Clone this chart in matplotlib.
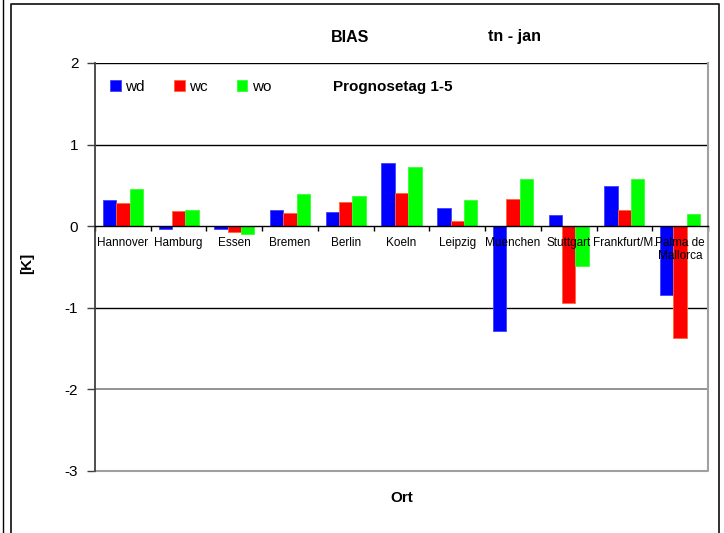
import numpy as np
from matplotlib import pyplot as plt
from matplotlib.lines import Line2D
from matplotlib.patches import Rectangle

plt.rcParams['font.family'] = ['Liberation Sans', 'DejaVu Sans']

orte = ["Hannover", "Hamburg", "Essen", "Bremen", "Berlin", "Koeln", "Leipzig",
        "Muenchen", "Stuttgart", "Frankfurt/M.", "Palma de\nMallorca"]
wd = [0.32, -0.04, -0.03, 0.20, 0.18, 0.78, 0.22, -1.28, 0.14, 0.49, -0.84]
wc = [0.29, 0.19, -0.07, 0.16, 0.30, 0.41, 0.06, 0.33, -0.94, 0.20, -1.37]
wo = [0.46, 0.20, -0.10, 0.39, 0.37, 0.73, 0.32, 0.58, -0.49, 0.58, 0.15]
yticks = [2, 1, 0, -1, -2, -3]

W, H = 724, 533
fig = plt.figure(figsize=(W / 100, H / 100), dpi=100)

def fx(px):
    return px / W

def fy(py):
    return 1 - py / H

ax = fig.add_axes([fx(95), fy(471), fx(708) - fx(95), fy(63) - fy(471)])

x = np.arange(len(orte))
bw = 0.24
ax.bar(x - bw, wd, bw, color="#0000ff", edgecolor="#4040ff", linewidth=0.6, label="wd", zorder=3)
ax.bar(x, wc, bw, color="#ff0000", edgecolor="#ff6633", linewidth=0.6, label="wc", zorder=3)
ax.bar(x + bw, wo, bw, color="#00ff00", edgecolor="#33ff33", linewidth=0.6, label="wo", zorder=3)

ax.set_xlim(-0.5, len(orte) - 0.5)
ax.set_ylim(-3, 2)
ax.set_yticks(yticks)
ax.set_yticklabels([str(v) for v in yticks], fontsize=11)
ax.tick_params(axis="y", direction="out", length=6, width=1, color="#404040", pad=6)

for v in [2, 1, -1]:
    ax.axhline(v, color="black", lw=1, zorder=1)
ax.axhline(-2, color="#808080", lw=1.2, zorder=1)

# zero line carries the category ticks
ax.spines["bottom"].set_position(("data", 0))
ax.spines["bottom"].set_color("black")
ax.spines["bottom"].set_linewidth(1)
ax.spines["bottom"].set_zorder(4)
ax.set_xticks(np.arange(len(orte) + 1) - 0.5)
ax.set_xticklabels([])
ax.tick_params(axis="x", direction="out", length=3.5, width=1, color="black")
ax.spines["top"].set_visible(False)
ax.spines["right"].set_visible(False)
ax.spines["left"].set_color("#404040")
ax.spines["left"].set_linewidth(1.3)

# plot area border (right / bottom grey)
ax.plot([1, 1, 0], [1, 0, 0], transform=ax.transAxes, color="#a0a0a0", lw=1.5, clip_on=False)

for i, name in enumerate(orte):
    ax.annotate(name, (i, 0), xytext=(0, -8), textcoords="offset points",
                ha="center", va="top", fontsize=8.5, linespacing=1.05)

handles = [Rectangle((0, 0), 1, 1, fc=c, ec=e, lw=0.6) for c, e in
           [("#0000ff", "#4040ff"), ("#ff0000", "#ff6633"), ("#00ff00", "#33ff33")]]
fig.legend(handles, ["wd", "wc", "wo"], ncol=3, loc="center left",
           bbox_to_anchor=(fx(110), fy(87)), frameon=False, fontsize=11,
           handlelength=0.7, handleheight=0.7, handletextpad=0.3,
           columnspacing=1.9, borderpad=0, borderaxespad=0)

fig.text(fx(350), fy(37), "BIAS", ha="center", va="center", fontsize=11.5, fontweight="bold")
fig.text(fx(515), fy(37), "tn - jan", ha="center", va="center", fontsize=11.5, fontweight="bold")
fig.text(fx(333), fy(87), "Prognosetag 1-5", ha="left", va="center", fontsize=11, fontweight="bold")
fig.text(fx(401.5), fy(498), "Ort", ha="center", va="center", fontsize=11, fontweight="bold")
fig.text(fx(27), fy(263), "[K]", ha="center", va="center", rotation=90, fontsize=11, fontweight="bold")

# outer chart frame
fig.add_artist(Line2D([fx(3), fx(3)], [0, 1], color="black", lw=1))
fig.add_artist(Line2D([fx(11), fx(11), fx(719), fx(719)], [0, fy(3.5), fy(3.5), 0],
                      color="#202020", lw=1.3))

fig.savefig("out.png", dpi=100)
